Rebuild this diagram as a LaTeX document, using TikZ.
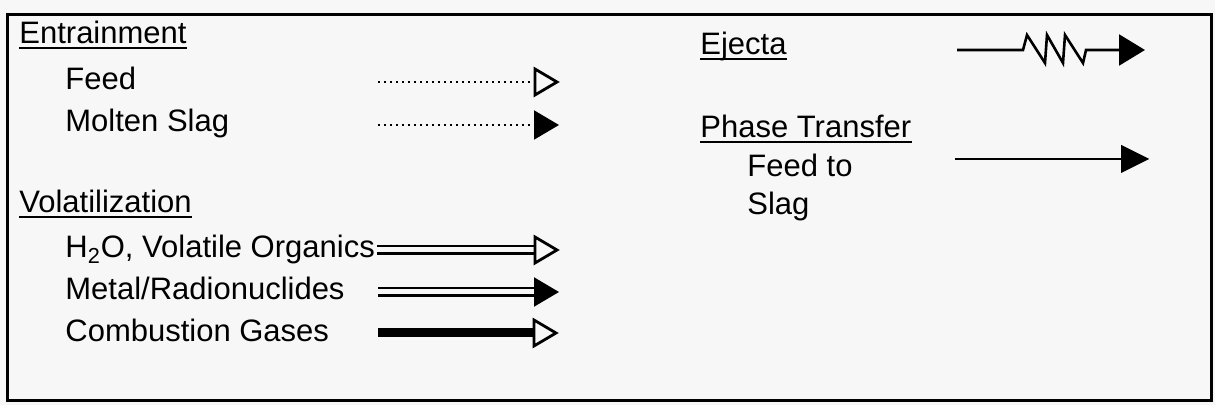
\documentclass[tikz,border=0pt]{standalone}
\usepackage{fontspec}
\setmainfont{Liberation Sans}
\usetikzlibrary{calc}
\definecolor{bg}{RGB}{247,247,247}
\newcommand\legendhead[4]{% style, base, tip, half height
  \draw[#1] ($(#2)+(0,-#4)$) -- (#3) -- ($(#2)+(0,#4)$) -- cycle;}
\begin{document}
\begin{tikzpicture}[x=0.5pt,y=-0.5pt,
  lbl/.style={anchor=base west, inner sep=0pt, font=\fontsize{15.5}{18}\selectfont},
  ulline/.style={line width=0.9pt},
  shaft/.style={line width=1.3pt},
  dotline/.style={line width=1.3pt, dash pattern=on 1.2pt off 1.8pt},
  dblline/.style={double=bg, double distance=2.5pt, line width=1.4pt},
  heavyline/.style={line width=4.5pt},
  openhead/.style={draw, line width=1.4pt, fill=bg, line join=miter},
  fullhead/.style={draw, line width=1pt, fill=black, line join=miter},
]
\fill[bg] (0,0) rectangle (1215,405);
\useasboundingbox (0,0) rectangle (1215,405);
\draw[line width=1.5pt] (7,15) rectangle (1211,401);

% left column texts
\node[lbl] (entr) at (19,44) {Entrainment};
\draw[ulline] ([yshift=-2pt]entr.base west) -- ([yshift=-2pt]entr.base east);
\node[lbl] (feed) at (65,90) {Feed};
\node[lbl] (molten) at (65,132) {Molten Slag};
\node[lbl] (vol) at (19,213) {Volatilization};
\draw[ulline] ([yshift=-2pt]vol.base west) -- ([yshift=-2pt]vol.base east);
\node[lbl] (water) at (65,258) {H\textsubscript{2}O, Volatile Organics};
\node[lbl] (metal) at (65,300) {Metal/Radionuclides};
\node[lbl] (comb) at (65,342) {Combustion Gases};

% right column texts
\node[lbl] (ejecta) at (700,55) {Ejecta};
\draw[ulline] ([yshift=-2pt]ejecta.base west) -- ([yshift=-2pt]ejecta.base east);
\node[lbl] (phase) at (700,138) {Phase Transfer};
\draw[ulline] ([yshift=-2pt]phase.base west) -- ([yshift=-2pt]phase.base east);
\node[lbl] (feedto) at (747,177) {Feed to};
\node[lbl] (slag) at (747,215) {Slag};

% Feed arrow
\coordinate (fa) at (378,82); \coordinate (fb) at (535,82); \coordinate (fc) at (557,82);
\draw[dotline] (fa) -- (fb);
\legendhead{openhead}{fb}{fc}{13}
% Molten slag arrow
\coordinate (ma) at (378,125); \coordinate (mb) at (535,125); \coordinate (mc) at (557,125);
\draw[dotline] (ma) -- (mb);
\legendhead{fullhead}{mb}{mc}{13}
% H2O arrow
\coordinate (wa) at (377,250); \coordinate (wb) at (535,250); \coordinate (wc) at (557,250);
\draw[dblline] (wa) -- (wb);
\legendhead{openhead}{wb}{wc}{13}
% Metal arrow
\coordinate (ta) at (378,292); \coordinate (tb) at (535,292); \coordinate (tc) at (557,292);
\draw[dblline] (ta) -- (tb);
\legendhead{fullhead}{tb}{tc}{13}
% Combustion arrow
\coordinate (ca) at (378,333); \coordinate (cb) at (534,333); \coordinate (cc) at (556,333);
\draw[heavyline] (ca) -- (cb);
\legendhead{openhead}{cb}{cc}{13}

% Ejecta arrow
\coordinate (ea) at (957,50); \coordinate (eb) at (1120,50); \coordinate (ec) at (1143,50);
\draw[shaft, line join=miter] (ea) -- (1023,50) -- (1027,35) -- (1045,63) -- (1047,35)
  -- (1063,63) -- (1065,35) -- (1083,63) -- (1086,50) -- (eb);
\legendhead{fullhead}{eb}{ec}{14}

% Phase transfer arrow
\coordinate (pa) at (955,159); \coordinate (pb) at (1122,159); \coordinate (pc) at (1147,159);
\draw[shaft] (pa) -- (pb);
\legendhead{fullhead}{pb}{pc}{12.5}
\end{tikzpicture}
\end{document}
